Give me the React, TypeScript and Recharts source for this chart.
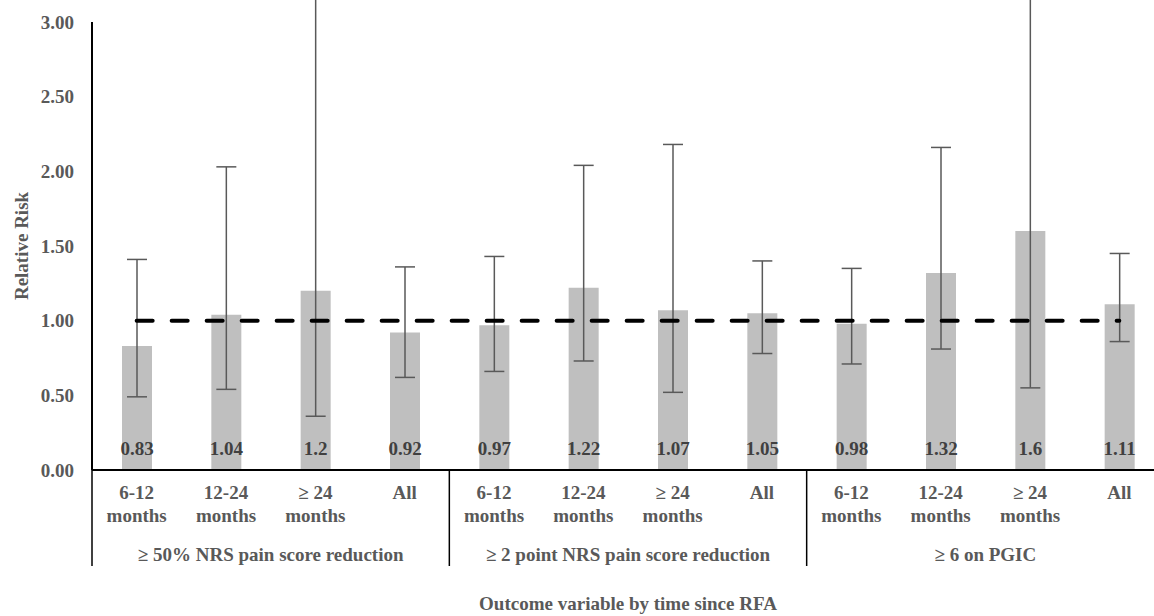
import React from 'react';
import { ComposedChart, Bar, Line, XAxis, YAxis, ErrorBar, LabelList } from 'recharts';

// relative risk per outcome / time window
const periods = ['6-12\nmonths', '12-24\nmonths', '≥ 24\nmonths', 'All'];
const groups = ['≥ 50% NRS pain score reduction', '≥ 2 point NRS pain score reduction', '≥ 6 on PGIC'];
const riskValues = [0.83, 1.04, 1.2, 0.92, 0.97, 1.22, 1.07, 1.05, 0.98, 1.32, 1.6, 1.11];
const lowerCI = [0.49, 0.54, 0.36, 0.62, 0.66, 0.73, 0.52, 0.78, 0.71, 0.81, 0.55, 0.86];
const upperCI = [1.41, 2.03, 4.0, 1.36, 1.43, 2.04, 2.18, 1.4, 1.35, 2.16, 4.6, 1.45];
const noEffect = 1;
const yTicks = [0, 0.5, 1, 1.5, 2, 2.5, 3];

const data = riskValues.map((rr, i) => ({
  key: `c${i}`,
  label: periods[i % periods.length],
  group: groups[Math.floor(i / periods.length)],
  rr,
  err: [rr - lowerCI[i], upperCI[i] - rr],
  baseline: noEffect,
}));

const FONT = '"Liberation Serif", "Times New Roman", serif';
const GREY = '#595959';
const PLOT_W = 1072;
const BAND = PLOT_W / data.length;

const CatTick = (props: any) => {
  const { x, y, index } = props;
  const row = data[index];
  if (!row) return null;
  const lines = row.label.split('\n');
  const first = index % periods.length === 0;
  return (
    <g>
      {lines.map((l: string, j: number) => (
        <text
          key={j}
          x={x}
          y={y + 29 + j * 23}
          textAnchor="middle"
          fill={GREY}
          fontFamily={FONT}
          fontWeight="bold"
          fontSize={19}
        >
          {l}
        </text>
      ))}
      {first && (
        <>
          <line x1={x - BAND / 2} x2={x - BAND / 2} y1={y} y2={y + 96} stroke="#000" strokeWidth={1.5} />
          <text
            x={x + BAND * 1.5}
            y={y + 91}
            textAnchor="middle"
            fill={GREY}
            fontFamily={FONT}
            fontWeight="bold"
            fontSize={19}
          >
            {row.group}
          </text>
        </>
      )}
    </g>
  );
};

export default function App() {
  return (
    <div style={{ position: 'fixed', left: 0, top: 0, width: 1154, height: 616, overflow: 'hidden', background: '#fff' }}>
      <ComposedChart width={1180} height={616} data={data} margin={{ top: 22, right: 16, left: 0, bottom: 0 }}>
        <XAxis
          dataKey="key"
          height={146}
          tickLine={false}
          tickSize={0}
          tickMargin={0}
          interval={0}
          axisLine={{ stroke: '#000', strokeWidth: 2 }}
          tick={<CatTick />}
          label={{
            value: 'Outcome variable by time since RFA',
            position: 'insideBottom',
            offset: 6,
            fill: GREY,
            fontFamily: FONT,
            fontWeight: 'bold',
            fontSize: 19,
          }}
        />
        <YAxis
          width={92}
          domain={[0, 3]}
          ticks={yTicks}
          allowDataOverflow
          tickLine={false}
          tickSize={0}
          tickMargin={18}
          axisLine={{ stroke: '#000', strokeWidth: 2 }}
          tickFormatter={(v: number) => v.toFixed(2)}
          tick={{ fill: GREY, fontFamily: FONT, fontWeight: 'bold', fontSize: 19 }}
          label={{
            value: 'Relative Risk',
            angle: -90,
            position: 'center',
            dx: -25,
            fill: GREY,
            fontFamily: FONT,
            fontWeight: 'bold',
            fontSize: 19,
          }}
        />
        <Bar dataKey="rr" fill="#bfbfbf" barSize={30} isAnimationActive={false}>
          <ErrorBar dataKey="err" width={10} stroke={GREY} strokeWidth={1.5} direction="y" />
          <LabelList
            dataKey="rr"
            position="insideBottom"
            offset={15}
            fill="#404040"
            fontFamily={FONT}
            fontWeight="bold"
            fontSize={19}
          />
        </Bar>
        <Line
          dataKey="baseline"
          stroke="#000"
          strokeWidth={4}
          strokeDasharray="16 19"
          strokeLinecap="round"
          dot={false}
          activeDot={false}
          isAnimationActive={false}
        />
      </ComposedChart>
    </div>
  );
}
